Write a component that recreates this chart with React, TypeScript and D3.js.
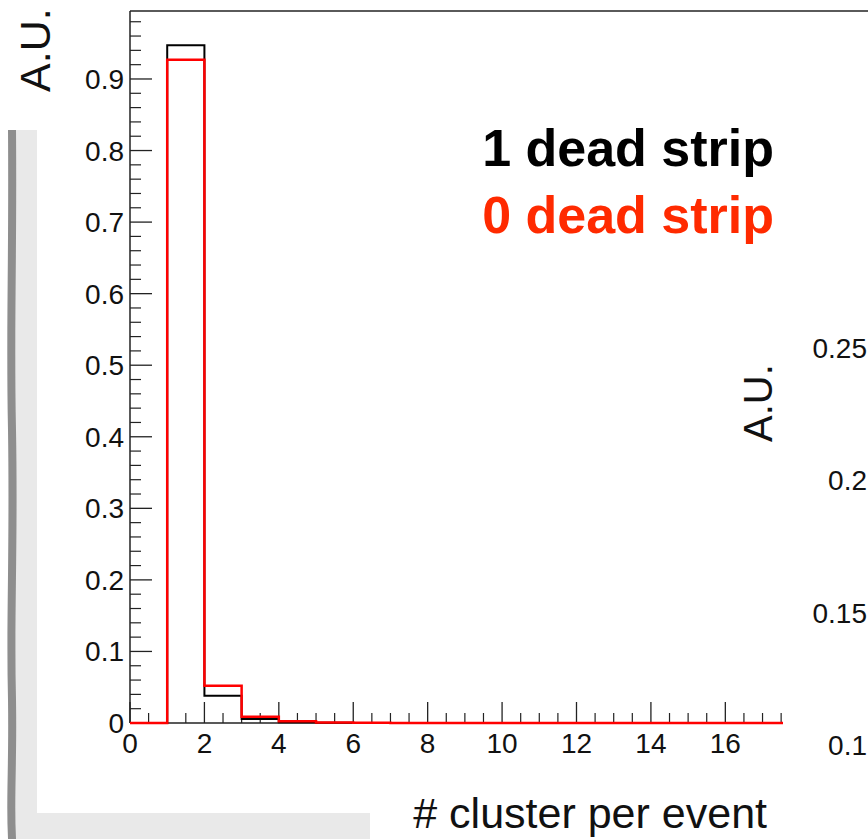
import React from "react";
import * as d3 from "d3";

const binEdges = [0, 1, 2, 3, 4, 5, 6, 7, 8, 9, 10, 11, 12, 13, 14, 15, 16, 17];
const deadStrip1 = [0, 0.947, 0.038, 0.0056, 0.0012, 0.0003, 0, 0, 0, 0, 0, 0, 0, 0, 0, 0, 0, 0];
const deadStrip0 = [0, 0.927, 0.052, 0.0088, 0.0025, 0.0006, 0.0002, 0.0001, 0, 0, 0, 0, 0, 0, 0, 0, 0, 0];
const yMajorTicks = [0, 0.1, 0.2, 0.3, 0.4, 0.5, 0.6, 0.7, 0.8, 0.9];
const xMajorTicks = [0, 2, 4, 6, 8, 10, 12, 14, 16];
const legendLabels = ["1 dead strip", "0 dead strip"];
const rightPanelTicks = ["0.25", "0.2", "0.15", "0.1"];
const rightPanelValues = [0.25, 0.2, 0.15, 0.1];

const X_MAX = 17.55;
const Y_MAX = 0.995;

export default function App() {
  const W = 868, H = 839;
  const left = 130, right = 783, top = 11, bottom = 723;
  const x = d3.scaleLinear().domain([0, X_MAX]).range([left, right]);
  const y = d3.scaleLinear().domain([0, Y_MAX]).range([bottom, top]);

  const stepPath = (vals: number[]) => {
    const pts: [number, number][] = binEdges.map((e, i) => [e, vals[i]]);
    pts.push([X_MAX, vals[vals.length - 1]]);
    const line = d3.line<[number, number]>()
      .x(d => x(d[0]))
      .y(d => y(d[1]))
      .curve(d3.curveStepAfter);
    return line(pts) as string;
  };

  const yMinor = d3.range(0, 0.99, 0.02).filter(v => Math.abs(Math.round(v * 10) - v * 10) > 1e-6);
  const xMinor = d3.range(0, 17.51, 0.5).filter(v => v % 2 !== 0);

  const font = "'Liberation Sans', Arial, Helvetica, sans-serif";
  const fmtY = (d: number) => (d === 0 ? "0" : d3.format(".1f")(d));

  const yR = d3.scaleLinear().domain([0.1, 0.25]).range([755, 358]);

  return (
    <svg width={W} height={H} style={{ position: "absolute", left: 0, top: 0, background: "#fff" }}>
      {/* grey L panel */}
      <rect x={8} y={130} width={29} height={H - 130} fill="#e9e9e9" />
      <rect x={16} y={813} width={354} height={H - 813} fill="#e9e9e9" />
      <path
        d={`M8,130 L16,130 C17,250 14,330 16,430 C18,540 14,620 16,700 C17,760 14,800 16,${H} L8,${H} C6,800 9,760 8,700 C6,620 10,540 8,430 C6,330 9,250 8,130 Z`}
        fill="#8e8e8e"
      />

      {/* frame */}
      <line x1={left} x2={W} y1={top} y2={top} stroke="#5a5a5a" strokeWidth={2} />
      <line x1={left} x2={left} y1={top} y2={bottom} stroke="#222" strokeWidth={1.5} />
      <line x1={left} x2={right} y1={bottom} y2={bottom} stroke="#222" strokeWidth={1.5} />

      {/* y ticks */}
      {yMajorTicks.map(t => (
        <g key={"ym" + t}>
          <line x1={left} x2={left + 22} y1={y(t)} y2={y(t)} stroke="#222" strokeWidth={1.3} />
          <text x={124} y={y(t) + 10} textAnchor="end" fontFamily={font} fontSize={28} fill="#111">
            {fmtY(t)}
          </text>
        </g>
      ))}
      {yMinor.map(t => (
        <line key={"yn" + t} x1={left} x2={left + 11} y1={y(t)} y2={y(t)} stroke="#222" strokeWidth={1.2} />
      ))}

      {/* x ticks */}
      {xMajorTicks.map(t => (
        <g key={"xm" + t}>
          <line x1={x(t)} x2={x(t)} y1={bottom} y2={bottom - 21} stroke="#222" strokeWidth={1.3} />
          <text x={x(t)} y={753} textAnchor="middle" fontFamily={font} fontSize={28} fill="#111">
            {t}
          </text>
        </g>
      ))}
      {xMinor.map(t => (
        <line key={"xn" + t} x1={x(t)} x2={x(t)} y1={bottom} y2={bottom - 10} stroke="#222" strokeWidth={1.2} />
      ))}

      {/* histograms */}
      <path d={stepPath(deadStrip1)} fill="none" stroke="#000" strokeWidth={2} />
      <path d={stepPath(deadStrip0)} fill="none" stroke="#f00" strokeWidth={2.5} />

      {/* legend */}
      <text x={774} y={166} textAnchor="end" fontFamily={font} fontWeight="bold" fontSize={52} fill="#000">
        {legendLabels[0]}
      </text>
      <text x={774} y={233} textAnchor="end" fontFamily={font} fontWeight="bold" fontSize={52} fill="#ff2a00">
        {legendLabels[1]}
      </text>

      {/* axis titles */}
      <text transform="translate(50,92) rotate(-90)" fontFamily={font} fontSize={43} fill="#111">A.U.</text>
      <text x={767} y={828} textAnchor="end" fontFamily={font} fontSize={43} fill="#111"># cluster per event</text>

      {/* partial second plot on the right */}
      <text transform="translate(772,442) rotate(-90)" fontFamily={font} fontSize={40} fill="#111">A.U.</text>
      {rightPanelValues.map((v, i) => (
        <text key={"r" + i} x={867} y={yR(v)} textAnchor="end" fontFamily={font} fontSize={28} fill="#111">
          {rightPanelTicks[i]}
        </text>
      ))}
    </svg>
  );
}
